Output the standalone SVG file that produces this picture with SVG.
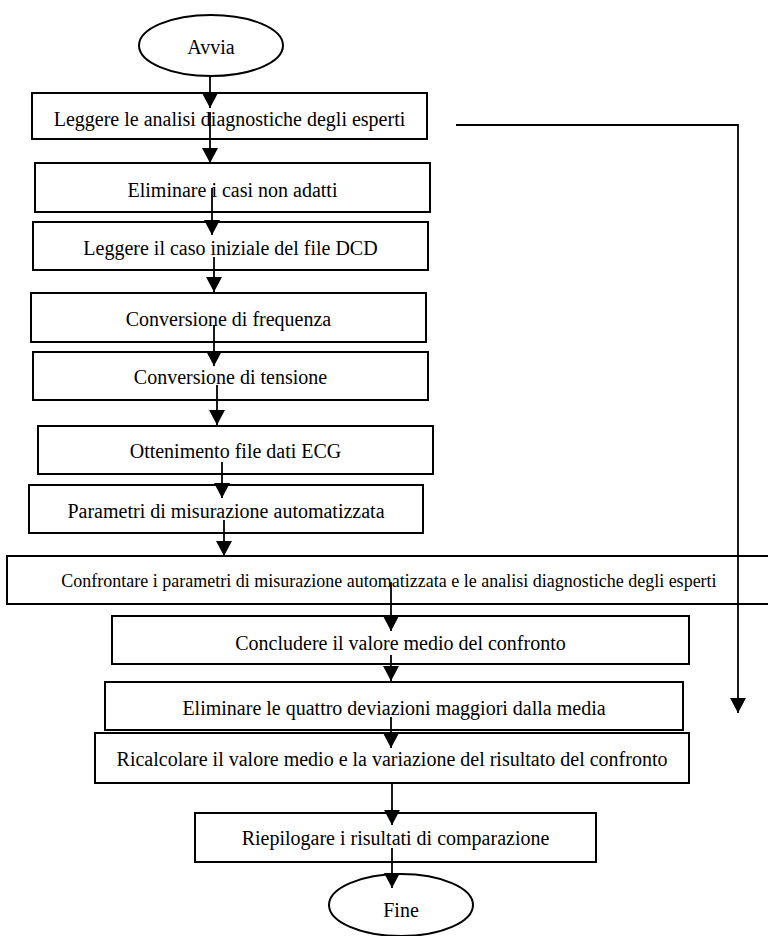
<svg xmlns="http://www.w3.org/2000/svg" width="768" height="936" viewBox="0 0 768 936">
<style>
.box{fill:#fff;stroke:#000;stroke-width:2}
.t{font-family:"Liberation Serif","Times New Roman",serif;font-size:20px;fill:#000;text-anchor:middle}
.c{fill:none;stroke:#000;stroke-width:1.8;marker-end:url(#ah)}
</style>
<defs>
<marker id="ah" markerUnits="userSpaceOnUse" markerWidth="16" markerHeight="16" refX="15" refY="8" orient="auto">
<path d="M0,0 L15,8 L0,16 Z" fill="#000"/>
</marker>
</defs>
<rect width="768" height="936" fill="#fff"/>
<g id="start"><ellipse class="box" cx="211" cy="45.5" rx="72" ry="30.5"/><text class="t" x="211" y="54">Avvia</text></g>
<g id="n1"><rect class="box" x="32" y="93" width="395" height="46"/><text class="t" x="229.5" y="126">Leggere le analisi diagnostiche degli esperti</text></g>
<g id="n2"><rect class="box" x="35" y="163" width="395" height="49"/><text class="t" x="232.5" y="197">Eliminare i casi non adatti</text></g>
<g id="n3"><rect class="box" x="33" y="222" width="395" height="48"/><text class="t" x="230.5" y="255">Leggere il caso iniziale del file DCD</text></g>
<g id="n4"><rect class="box" x="31" y="293" width="395" height="49"/><text class="t" x="228.5" y="326">Conversione di frequenza</text></g>
<g id="n5"><rect class="box" x="33" y="352" width="395" height="48"/><text class="t" x="230.5" y="384">Conversione di tensione</text></g>
<g id="n6"><rect class="box" x="38" y="426" width="395" height="48"/><text class="t" x="235.5" y="458">Ottenimento file dati ECG</text></g>
<g id="n7"><rect class="box" x="29" y="485" width="394" height="48"/><text class="t" x="226" y="518">Parametri di misurazione automatizzata</text></g>
<g id="n8"><rect x="7" y="556" width="761" height="48" fill="#fff"/><path d="M768,556 H7 V604 H768" fill="none" stroke="#000" stroke-width="2"/><text class="t" x="389" y="587" style="font-size:18px">Confrontare i parametri di misurazione automatizzata e le analisi diagnostiche degli esperti</text></g>
<g id="n9"><rect class="box" x="112" y="616" width="577" height="48"/><text class="t" x="400.5" y="650">Concludere il valore medio del confronto</text></g>
<g id="n10"><rect class="box" x="105" y="682" width="578" height="48"/><text class="t" x="394" y="715">Eliminare le quattro deviazioni maggiori dalla media</text></g>
<g id="n11"><rect class="box" x="95" y="733" width="594" height="50"/><text class="t" x="392" y="766">Ricalcolare il valore medio e la variazione del risultato del confronto</text></g>
<g id="n12"><rect class="box" x="195" y="813" width="401" height="49"/><text class="t" x="395.5" y="845">Riepilogare i risultati di comparazione</text></g>
<g id="end"><ellipse class="box" cx="401" cy="905" rx="72" ry="31"/><text class="t" x="401" y="917">Fine</text></g>
<g id="connectors">
<path class="c" d="M210,76 V108"/>
<path class="c" d="M210,112 V163"/>
<path class="c" d="M212,188 V235"/>
<path class="c" d="M214,257 V292"/>
<path class="c" d="M214,325 V366"/>
<path class="c" d="M217,385 V425"/>
<path class="c" d="M222,462 V498"/>
<path class="c" d="M224,520 V556"/>
<path class="c" d="M391,582 V631"/>
<path class="c" d="M391,655 V681"/>
<path class="c" d="M391,717 V748"/>
<path class="c" d="M392,784 V825"/>
<path class="c" d="M392,848 V888"/>
<path class="c" d="M456,125 H738 V713"/>
</g>
</svg>
